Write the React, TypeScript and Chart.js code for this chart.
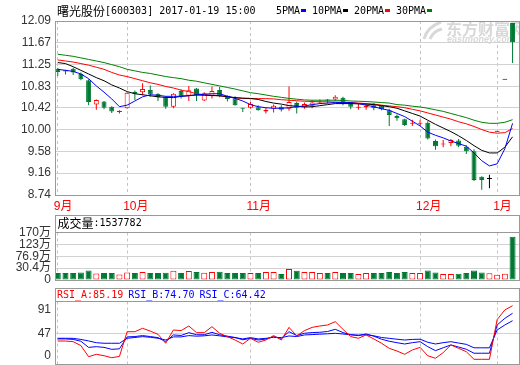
import React, { useEffect, useRef } from 'react';
import { Chart, registerables } from 'chart.js';

Chart.register(...registerables);

// ---------------- data ----------------
const stockTitle = '曙光股份[600303] 2017-01-19 15:00';
const maNames = ['5PMA', '10PMA', '20PMA', '30PMA'];

const monthTickIdx = [0, 9, 25, 47, 57];
const monthLabels = ['9月', '10月', '11月', '12月', '1月'];

const priceTicks = [12.09, 11.67, 11.25, 10.83, 10.42, 10.0, 9.58, 9.16, 8.74];
const volTicks = [-16.1, 30.4, 76.9, 123, 170];
const volTickLabels = ['0', '30.4万', '76.9万', '123万', '170万'];
const rsiGridTick = [47];
const rsiEdgeLabels = ['91', '0'];

const opens = [11.17, 11.14, 11.17, 11.07, 10.95, 10.48, 10.54, 10.44, 10.34, 10.41,
  10.73, 10.72, 10.76, 10.69, 10.63, 10.44, 10.74, 10.65, 10.79, 10.56,
  10.64, 10.76, 10.65, 10.60, 10.42, 10.42, 10.43, 10.35, 10.40, 10.44,
  10.40, 10.51, 10.43, 10.46, 10.52, 10.58, 10.58, 10.61, 10.52, 10.42,
  10.43, 10.47, 10.46, 10.37, 10.26, 10.20, 10.11, 10.11, 10.13, 9.78,
  9.71, 9.74, 9.79, 9.67, 9.58, 9.09, 9.05, 9.96, 10.96, 12.05];
const highs = [11.19, 11.15, 11.19, 11.10, 10.97, 10.58, 10.55, 10.45, 10.37, 10.72,
  10.75, 10.89, 10.85, 10.70, 10.64, 10.70, 10.77, 10.84, 10.80, 10.72,
  10.83, 10.82, 10.66, 10.64, 10.42, 10.53, 10.47, 10.42, 10.48, 10.47,
  10.83, 10.54, 10.52, 10.57, 10.58, 10.59, 10.66, 10.63, 10.53, 10.49,
  10.49, 10.51, 10.47, 10.40, 10.29, 10.21, 10.19, 10.19, 10.16, 9.81,
  9.80, 9.82, 9.82, 9.70, 9.62, 9.10, 9.13, 9.96, 10.96, 12.05];
const lows = [11.03, 11.06, 11.05, 10.95, 10.47, 10.38, 10.39, 10.32, 10.31, 10.40,
  10.57, 10.66, 10.63, 10.55, 10.40, 10.41, 10.60, 10.55, 10.55, 10.55,
  10.60, 10.62, 10.54, 10.46, 10.34, 10.40, 10.36, 10.31, 10.33, 10.35,
  10.36, 10.31, 10.40, 10.41, 10.49, 10.50, 10.55, 10.47, 10.39, 10.38,
  10.38, 10.37, 10.37, 10.07, 10.17, 10.07, 10.07, 10.07, 9.81, 9.61,
  9.66, 9.68, 9.66, 9.53, 9.01, 8.84, 8.87, 9.96, 10.96, 11.28];
const closes = [11.11, 11.12, 11.10, 10.97, 10.53, 10.57, 10.42, 10.35, 10.36, 10.71,
  10.69, 10.78, 10.68, 10.62, 10.44, 10.69, 10.64, 10.755, 10.66, 10.70,
  10.74, 10.65, 10.59, 10.47, 10.40, 10.49, 10.37, 10.38, 10.46, 10.38,
  10.53, 10.42, 10.49, 10.52, 10.535, 10.56, 10.63, 10.52, 10.44, 10.44,
  10.46, 10.41, 10.39, 10.28, 10.22, 10.09, 10.13, 10.13, 9.83, 9.68,
  9.73, 9.80, 9.69, 9.58, 9.03, 9.03, 9.05, 9.96, 10.96, 11.68];

const ma5 = [11.16, 11.14, 11.12, 11.07, 10.98, 10.84, 10.72, 10.59, 10.44, 10.47,
  10.55, 10.63, 10.67, 10.66, 10.64, 10.64, 10.64, 10.65, 10.67, 10.68,
  10.69, 10.69, 10.64, 10.60, 10.55, 10.48, 10.44, 10.42, 10.41, 10.41,
  10.42, 10.44, 10.455, 10.48, 10.50, 10.51, 10.52, 10.52, 10.52, 10.50,
  10.47, 10.44, 10.40, 10.37, 10.31, 10.25, 10.16, 10.07, 9.95, 9.89,
  9.84, 9.78, 9.73, 9.68, 9.55, 9.40, 9.30, 9.34, 9.63, 10.12];
const ma10 = [11.29, 11.27, 11.21, 11.14, 11.07, 11.00, 10.94, 10.86, 10.80, 10.73,
  10.69, 10.67, 10.65, 10.63, 10.62, 10.615, 10.64, 10.655, 10.665, 10.66,
  10.655, 10.65, 10.635, 10.615, 10.605, 10.60, 10.58, 10.54, 10.51, 10.49,
  10.46, 10.45, 10.435, 10.44, 10.46, 10.48, 10.50, 10.50, 10.50, 10.495,
  10.49, 10.48, 10.46, 10.44, 10.41, 10.36, 10.31, 10.26, 10.18, 10.10,
  10.03, 9.96, 9.88, 9.79, 9.69, 9.60, 9.55, 9.55, 9.66, 9.86];
const ma20 = [11.34, 11.32, 11.30, 11.27, 11.24, 11.20, 11.16, 11.10, 11.05, 11.02,
  10.98, 10.94, 10.90, 10.87, 10.83, 10.80, 10.76, 10.73, 10.69, 10.67,
  10.66, 10.65, 10.63, 10.61, 10.60, 10.595, 10.595, 10.595, 10.59, 10.575,
  10.565, 10.555, 10.545, 10.54, 10.535, 10.535, 10.53, 10.525, 10.52, 10.51,
  10.50, 10.49, 10.47, 10.455, 10.44, 10.42, 10.39, 10.36, 10.32, 10.28,
  10.24, 10.20, 10.15, 10.11, 10.06, 10.00, 9.95, 9.93, 9.94, 10.02];
const ma30 = [11.45, 11.43, 11.41, 11.38, 11.35, 11.32, 11.29, 11.25, 11.21, 11.16,
  11.13, 11.10, 11.08, 11.05, 11.02, 11.00, 10.98, 10.95, 10.93, 10.90,
  10.87, 10.84, 10.81, 10.78, 10.745, 10.71, 10.69, 10.665, 10.64, 10.62,
  10.60, 10.585, 10.57, 10.565, 10.565, 10.565, 10.565, 10.56, 10.55, 10.545,
  10.54, 10.53, 10.52, 10.51, 10.48, 10.47, 10.45, 10.435, 10.41, 10.38,
  10.35, 10.31, 10.27, 10.23, 10.18, 10.14, 10.12, 10.12, 10.14, 10.19];

// volume in 万 (10,000)
const volumes = [11.3, 11.3, 11.3, 13.0, 21.0, 9.7, 11.3, 11.3, 5.8, 13.6,
  11.3, 15.2, 11.3, 11.3, 12.4, 20.2, 11.3, 19.0, 15.2, 12.4,
  15.2, 16.3, 11.3, 11.3, 11.3, 11.3, 11.3, 15.2, 15.2, 7.3,
  26.9, 20.2, 15.2, 15.2, 11.3, 11.3, 15.2, 11.3, 11.3, 7.3,
  11.3, 11.3, 11.3, 15.2, 11.3, 15.2, 11.3, 11.3, 21.4, 13.6,
  7.3, 7.3, 8.5, 11.3, 21.4, 13.6, 10.5, 4.6, 8.5, 153.7782];

const rsiA = [36.3, 36.3, 35.4, 30.0, 14.6, 17.9, 16.0, 13.2, 15.0, 49.2,
  49.2, 53.9, 50.0, 45.6, 33.2, 51.6, 50.7, 57.1, 47.9, 47.9,
  56.1, 47.0, 42.4, 37.7, 32.2, 40.1, 34.6, 37.7, 43.8, 37.7,
  55.2, 43.3, 50.7, 55.2, 57.1, 58.5, 63.1, 52.5, 42.4, 40.1,
  44.7, 39.2, 33.2, 26.2, 22.5, 17.9, 23.9, 27.5, 15.9, 12.4,
  20.3, 30.9, 26.2, 21.5, 11.0, 11.0, 11.0, 66.0, 79.3, 85.19];
const rsiB = [39.2, 39.2, 38.5, 36.0, 27.5, 28.5, 27.5, 24.8, 25.5, 42.0,
  42.5, 43.8, 42.5, 41.0, 35.4, 44.7, 44.0, 47.9, 45.0, 45.0,
  48.3, 45.0, 43.0, 41.2, 38.0, 40.0, 37.7, 39.0, 42.4, 40.0,
  49.2, 44.0, 47.0, 48.0, 48.4, 49.5, 52.5, 48.0, 45.0, 43.8,
  46.1, 43.0, 38.8, 36.0, 34.0, 32.2, 34.0, 35.4, 28.5, 23.0,
  27.0, 30.9, 28.0, 24.9, 19.4, 19.4, 19.4, 58.5, 67.7, 74.70];
const rsiC = [40.1, 40.1, 40.0, 38.5, 36.4, 34.0, 33.2, 33.2, 33.2, 40.1,
  41.2, 42.4, 41.5, 40.1, 37.7, 42.0, 42.0, 43.8, 43.0, 43.5,
  44.7, 43.5, 42.0, 41.0, 39.2, 41.0, 39.2, 40.0, 41.5, 41.0,
  43.3, 42.5, 44.7, 45.2, 45.8, 46.3, 47.0, 46.0, 45.0, 44.5,
  45.0, 43.5, 41.2, 40.0, 38.8, 37.7, 38.5, 38.8, 34.6, 32.2,
  34.0, 35.4, 33.5, 31.7, 26.9, 26.9, 26.9, 51.6, 58.5, 64.42];

// ---------------- styles ----------------
const RED = '#ff0000';
const GREEN = '#007a33';
const BLUE = '#0000ff';
const FRAME = '#999999';
const GRID = '#d2d2d2';
const DASH = '#c4c4c4';
const LABEL = '#333333';
const maColors = [BLUE, '#000000', RED, '#008000'];
const X_MIN = -0.36;
const X_MAX = 59.9;
const AXIS_W = 55;
const TICK_FONT = { family: "'Liberation Sans', 'Noto Sans CJK SC', sans-serif", size: 12 };

Chart.defaults.font.family = "'Liberation Sans', 'Noto Sans CJK SC', sans-serif";

const CJK = /[\u2E80-\u9FFF\uFF00-\uFFEF\u3000-\u303F]/;
function drawMixed(ctx: any, text: string, x: number, y: number, color: string) {
  const runs = text.match(/[\u2E80-\u9FFF\uFF00-\uFFEF\u3000-\u303F]+|[^\u2E80-\u9FFF\uFF00-\uFFEF\u3000-\u303F]+/g) || [];
  ctx.save();
  ctx.fillStyle = color;
  ctx.textBaseline = 'middle';
  ctx.textAlign = 'left';
  let cx = x;
  for (const r of runs) {
    ctx.font = CJK.test(r) ? '12px "Noto Sans CJK SC"' : '10px "DejaVu Sans Mono"';
    ctx.fillText(r, cx, y);
    cx += ctx.measureText(r).width;
  }
  ctx.restore();
  return cx;
}

function strokeFrame(ctx: any, a: any, boxTop?: number) {
  const l = Math.floor(a.left) + 0.5;
  const r = Math.floor(a.right) + 0.5;
  const t = Math.floor(a.top) + 0.5;
  const b = Math.floor(a.bottom) + 0.5;
  const top = boxTop === undefined ? t : boxTop + 0.5;
  ctx.save();
  ctx.strokeStyle = FRAME;
  ctx.lineWidth = 1;
  ctx.strokeRect(l, top, r - l, b - top);
  if (boxTop !== undefined) {
    ctx.beginPath();
    ctx.moveTo(l, t);
    ctx.lineTo(r, t);
    ctx.stroke();
  }
  ctx.restore();
}

function fitY(s: any) {
  s.width = AXIS_W;
  s.paddingTop = 0;
  s.paddingBottom = 0;
}

function xAxis(height: number, showLabels: boolean) {
  return {
    type: 'linear',
    min: X_MIN,
    max: X_MAX,
    offset: false,
    afterFit: (s: any) => { s.height = height; s.paddingLeft = 0; s.paddingRight = 0; },
    afterBuildTicks: (s: any) => { s.ticks = monthTickIdx.map((v) => ({ value: v })); },
    ticks: {
      display: showLabels,
      autoSkip: false,
      maxRotation: 0,
      minRotation: 0,
      align: 'start',
      labelOffset: -4,
      padding: 4,
      color: RED,
      font: TICK_FONT,
      callback: (_v: any, i: number) => monthLabels[i],
    },
    grid: { color: DASH, drawTicks: false, offset: false, lineWidth: 1 },
    border: { display: false, dash: [3, 3] },
  };
}

const candleColor = (i: number) =>
  closes[i] > opens[i] ? RED : closes[i] < opens[i] ? GREEN : '#000000';

export default function App() {
  const priceRef = useRef<HTMLCanvasElement>(null);
  const volRef = useRef<HTMLCanvasElement>(null);
  const rsiRef = useRef<HTMLCanvasElement>(null);

  useEffect(() => {
    const charts: any[] = [];
    const idx = closes.map((_, i) => i);

    // ---------- price panel ----------
    const pricePlugin = {
      id: 'priceDecor',
      beforeDatasetsDraw(chart: any) {
        const { ctx, chartArea: a } = chart;
        ctx.save();
        ctx.beginPath();
        ctx.rect(a.left, a.top, a.right - a.left, a.bottom - a.top);
        ctx.clip();
        ctx.fillStyle = '#d8d8d8';
        ctx.strokeStyle = '#d8d8d8';
        ctx.textBaseline = 'middle';
        ctx.font = 'bold 16px "Noto Sans CJK SC"';
        ctx.fillText('东方财富网', 446, 29);
        ctx.font = 'bold italic 9px "Liberation Sans"';
        ctx.fillText('eastmoney.com', 447, 40);
        ctx.lineWidth = 3;
        ctx.beginPath(); ctx.moveTo(424, 39); ctx.quadraticCurveTo(427, 27, 441, 22); ctx.stroke();
        ctx.beginPath(); ctx.moveTo(430, 39); ctx.quadraticCurveTo(433, 31, 442, 29); ctx.stroke();
        ctx.restore();
      },
      afterDraw(chart: any) {
        const { ctx, chartArea: a } = chart;
        strokeFrame(ctx, a);
        drawMixed(ctx, stockTitle, 57, 11, '#000000');
        let x = 276;
        maNames.forEach((n, k) => {
          const end = drawMixed(ctx, n, x, 11, '#000000');
          ctx.fillStyle = maColors[k];
          ctx.fillRect(Math.round(end + 1), 9, 5, 3);
          x = Math.round(end + 1) + 5 + 6;
        });
      },
    };

    const maSets = [ma5, ma10, ma20, ma30].map((arr, k) => ({
      type: 'line',
      label: maNames[k],
      data: arr.map((v, i) => ({ x: i, y: v })),
      borderColor: maColors[k],
      borderWidth: 1,
      pointRadius: 0,
      tension: 0,
      order: k,
    }));

    charts.push(new Chart(priceRef.current as HTMLCanvasElement, {
      type: 'bar',
      data: {
        datasets: [
          ...maSets,
          {
            type: 'bar',
            label: 'body',
            data: idx.map((i) => ({ x: i, y: [opens[i], closes[i]] })),
            backgroundColor: idx.map((i) => (closes[i] > opens[i] ? '#ffffff' : candleColor(i))),
            borderColor: idx.map((i) => candleColor(i)),
            borderWidth: 1,
            borderSkipped: false,
            barThickness: 5,
            minBarLength: 1,
            grouped: false,
            inflateAmount: 0,
            order: 4,
          },
          {
            type: 'bar',
            label: 'wick',
            data: idx.map((i) => ({ x: i, y: [lows[i], highs[i]] })),
            backgroundColor: idx.map((i) => candleColor(i)),
            borderWidth: 0,
            barThickness: 1,
            grouped: false,
            inflateAmount: 0,
            order: 5,
          },
        ] as any,
      },
      options: {
        responsive: false,
        animation: false,
        devicePixelRatio: 1,
        events: [],
        layout: { padding: { top: 21, right: 0.5, left: 0, bottom: 0 } },
        plugins: { legend: { display: false }, tooltip: { enabled: false } },
        scales: {
          x: xAxis(17, true) as any,
          y: {
            min: 8.74,
            max: 12.09,
            beginAtZero: false,
            afterFit: fitY,
            afterBuildTicks: (s: any) => { s.ticks = priceTicks.map((v) => ({ value: v })); },
            ticks: { autoSkip: false, padding: 4, color: LABEL, font: TICK_FONT, callback: (v: any) => Number(v).toFixed(2) },
            grid: { color: GRID, drawTicks: false },
            border: { display: false },
          },
        },
      } as any,
      plugins: [pricePlugin],
    }));

    // ---------- volume panel ----------
    const volPlugin = {
      id: 'volDecor',
      afterDraw(chart: any) {
        const { ctx, chartArea: a } = chart;
        strokeFrame(ctx, a, 3);
        drawMixed(ctx, '成交量:' + Math.round(volumes[volumes.length - 1] * 10000), 57.5, 11, '#000000');
      },
    };
    charts.push(new Chart(volRef.current as HTMLCanvasElement, {
      type: 'bar',
      data: {
        datasets: [{
          label: '成交量',
          data: idx.map((i) => ({ x: i, y: volumes[i] })),
          base: volTicks[0],
          backgroundColor: idx.map((i) => (closes[i] >= opens[i] ? '#ffffff' : GREEN)),
          borderColor: idx.map((i) => (closes[i] >= opens[i] ? RED : GREEN)),
          borderWidth: 1,
          borderSkipped: false,
          barThickness: 6,
          inflateAmount: 0,
        }] as any,
      },
      options: {
        responsive: false,
        animation: false,
        devicePixelRatio: 1,
        events: [],
        layout: { padding: { top: 20.5, right: 0.5, left: 0, bottom: 0 } },
        plugins: { legend: { display: false }, tooltip: { enabled: false } },
        scales: {
          x: xAxis(8, false) as any,
          y: {
            min: volTicks[0],
            max: volTicks[volTicks.length - 1],
            beginAtZero: false,
            afterFit: fitY,
            afterBuildTicks: (s: any) => { s.ticks = volTicks.map((v) => ({ value: v })); },
            ticks: { autoSkip: false, padding: 4, color: LABEL, font: TICK_FONT, callback: (_v: any, i: number) => volTickLabels[i] },
            grid: { color: GRID, drawTicks: false },
            border: { display: false },
          },
        },
      } as any,
      plugins: [volPlugin],
    }));

    // ---------- RSI panel ----------
    const rsiPlugin = {
      id: 'rsiDecor',
      afterDraw(chart: any) {
        const { ctx, chartArea: a } = chart;
        strokeFrame(ctx, a, 0);
        let x = 57;
        const items = [
          ['RSI_A:' + rsiA[rsiA.length - 1].toFixed(2), RED],
          ['RSI_B:' + rsiB[rsiB.length - 1].toFixed(2), BLUE],
          ['RSI_C:' + rsiC[rsiC.length - 1].toFixed(2), BLUE],
        ];
        items.forEach(([t, c]) => { x = drawMixed(ctx, t, x, 7, c) + 5; });
        ctx.save();
        ctx.font = '12px "Liberation Sans"';
        ctx.fillStyle = LABEL;
        ctx.textAlign = 'right';
        ctx.textBaseline = 'middle';
        ctx.fillText(rsiEdgeLabels[0], a.left - 4, a.top + 8);
        ctx.fillText(rsiEdgeLabels[1], a.left - 4, a.bottom - 8.5);
        ctx.restore();
      },
    };
    const rsiSet = (arr: number[], color: string, label: string) => ({
      label,
      data: arr.map((v, i) => ({ x: i, y: v })),
      borderColor: color,
      borderWidth: 1,
      pointRadius: 0,
      tension: 0,
    });
    charts.push(new Chart(rsiRef.current as HTMLCanvasElement, {
      type: 'line',
      data: {
        datasets: [rsiSet(rsiA, RED, 'RSI_A'), rsiSet(rsiB, BLUE, 'RSI_B'), rsiSet(rsiC, BLUE, 'RSI_C')] as any,
      },
      options: {
        responsive: false,
        animation: false,
        devicePixelRatio: 1,
        events: [],
        layout: { padding: { top: 13.5, right: 0.5, left: 0, bottom: 0 } },
        plugins: { legend: { display: false }, tooltip: { enabled: false } },
        scales: {
          x: xAxis(1, false) as any,
          y: {
            min: 4.5,
            max: 91,
            beginAtZero: false,
            afterFit: fitY,
            afterBuildTicks: (s: any) => { s.ticks = rsiGridTick.map((v) => ({ value: v })); },
            ticks: { autoSkip: false, padding: 4, color: LABEL, font: TICK_FONT, callback: (v: any) => String(v) },
            grid: { color: GRID, drawTicks: false },
            border: { display: false },
          },
        },
      } as any,
      plugins: [rsiPlugin],
    }));

    return () => { charts.forEach((c) => c.destroy()); };
  }, []);

  const cv = (top: number, h: number) => ({ position: 'absolute' as const, left: 0, top, width: 520, height: h, display: 'block' });
  return (
    <div style={{ position: 'fixed', left: 0, top: 0, width: 520, height: 365, background: '#ffffff', overflow: 'hidden' }}>
      <canvas ref={priceRef} width={520} height={212} style={cv(0, 212)} />
      <canvas ref={volRef} width={520} height={76} style={cv(212, 76)} />
      <canvas ref={rsiRef} width={520} height={77} style={cv(288, 77)} />
    </div>
  );
}
